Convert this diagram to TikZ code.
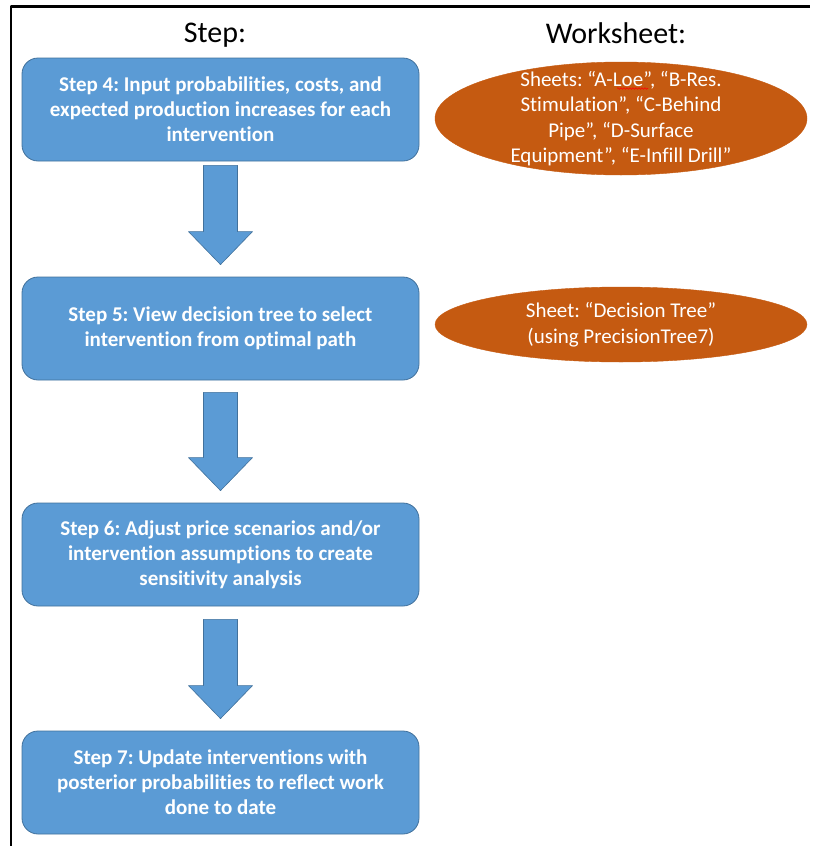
\documentclass[tikz,border=0pt]{standalone}
\usepackage{fontspec}
\setmainfont{Carlito}[Ligatures=CommonOff]
\usetikzlibrary{shapes.geometric,calc,decorations.pathmorphing}
\definecolor{stepblue}{HTML}{5B9BD5}
\definecolor{stepedge}{HTML}{41719C}
\definecolor{sheetorange}{HTML}{C55A11}
\frenchspacing
\begin{document}
\begin{tikzpicture}[x=1pt,y=-1pt,line join=round,
	stepbox/.style={draw=stepedge,fill=stepblue,line width=0.8pt,rounded corners=16pt,minimum width=397pt,minimum height=103pt,text=white,align=center,font=\fontsize{21}{25}\selectfont\bfseries},
	sheet/.style={ellipse,fill=sheetorange,draw=sheetorange,minimum width=372pt,inner sep=0pt},
	sheettext/.style={text=white,align=center,font=\fontsize{21}{25.5}\selectfont},
	heading/.style={anchor=base,font=\fontsize{30}{36}\selectfont},
	bigarrow/.style={draw=stepedge,fill=stepblue,line width=0.6pt}]
	\useasboundingbox (0,0) rectangle (819,846);
	%	frame
	\draw[line width=2.8pt] (11,846)--(11,6.5)--(810,6.5);
	\node[heading] (hstep) at (215,42) {Step:};
	\node[heading] (hsheet) at (616,43) {Worksheet:};
	%	steps
	\node[stepbox] (s4) at (220.5,109.5) {Step 4: Input probabilities, costs, and\\expected production increases for each\\intervention};
	\node[stepbox] (s5) at (220.5,328.5) {Step 5: View decision tree to select\\intervention from optimal path};
	\node[stepbox] (s6) at (220.5,554.5) {Step 6: Adjust price scenarios and/or\\intervention assumptions to create\\sensitivity analysis};
	\node[stepbox] (s7) at (220.5,782.5) {Step 7: Update interventions with\\posterior probabilities to reflect work\\done to date};
	\foreach \a/\b/\g in {s4/s5/4,s5/s6/12,s6/s7/13}
		\draw[bigarrow] ($(\a.south)+(-17,\g)$) -- ++(34,0) |- ($(\b.north)+(17,-45)$) -- ++(15,0)
			-- ($(\b.north)+(0,-12)$) -- ++(-32,-33) -- ++(15,0) -- cycle;
	%	worksheets
	\node[sheet,minimum height=113pt] (e1) at (621,118.5) {};
	\node[sheettext] (e1t) at (e1) {Sheets: “A-Loe”, “B-Res.\\Stimulation”, “C-Behind\\Pipe”, “D-Surface\\Equipment”, “E-Infill Drill”};
	\draw[red,line width=0.6pt,decorate,decoration={snake,amplitude=0.8pt,segment length=3pt}] ($(e1.center)+(-4,-30)$) -- ++(31,0);
	\node[sheet,minimum height=75pt] (e2) at (621,324.5) {};
	\node[sheettext] (e2t) at (e2) {Sheet: “Decision Tree”\\(using PrecisionTree7)};
\end{tikzpicture}
\end{document}
